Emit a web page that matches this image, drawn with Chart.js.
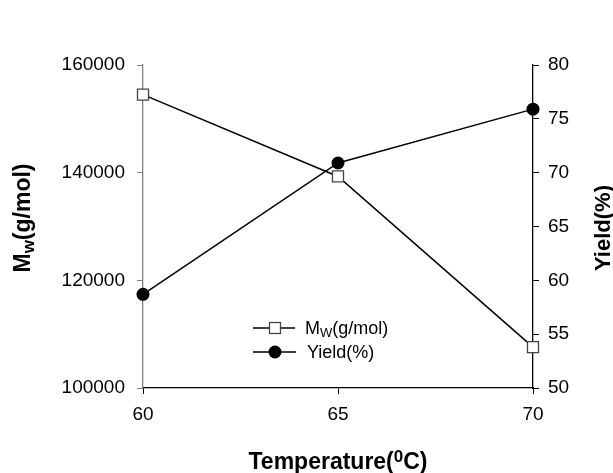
<!DOCTYPE html>
<html>
<head>
<meta charset="utf-8">
<script src="https://cdn.jsdelivr.net/npm/chart.js@4.4.1/dist/chart.umd.min.js"></script>
<style>
  html, body { margin: 0; padding: 0; background: #fff; }
  #chart { display: block; }
</style>
</head>
<body>
<canvas id="chart" width="613" height="473"></canvas>
<script>
const FONT = "'Liberation Sans', Arial, sans-serif";

// data
const temps = [60, 65, 70];
const mw = [154500, 139300, 107600];
const yieldPct = [58.7, 70.9, 75.9];

const xTicks = [60, 65, 70];
const mwRange = [100000, 160000];
const yieldRange = [50, 80];

const toPoints = (xs, ys) => xs.map((x, i) => ({ x: x, y: ys[i] }));

// draw "base" + small sub/sup text, returns width
function richText(ctx, parts, x, y, measureOnly) {
  let cx = x;
  parts.forEach(p => {
    ctx.font = p.font;
    const w = ctx.measureText(p.t).width;
    if (!measureOnly) ctx.fillText(p.t, cx, y + (p.dy || 0));
    cx += w;
  });
  return cx - x;
}

const labelsPlugin = {
  id: 'labels',
  afterDraw(chart) {
    const ctx = chart.ctx;
    const area = chart.chartArea;
    ctx.save();
    ctx.fillStyle = '#000';
    ctx.textBaseline = 'alphabetic';
    ctx.textAlign = 'left';

    // x title
    const xt = [
      { t: 'Temperature(', font: `bold 23px ${FONT}` },
      { t: '0', font: `bold 17px ${FONT}`, dy: -7 },
      { t: 'C)', font: `bold 23px ${FONT}` }
    ];
    let w = richText(ctx, xt, 0, 0, true);
    richText(ctx, xt, (area.left + area.right) / 2 - w / 2, 469, false);

    // left y title
    const yl = [
      { t: 'M', font: `bold 23px ${FONT}` },
      { t: 'w', font: `bold 17px ${FONT}`, dy: 4 },
      { t: '(g/mol)', font: `bold 23px ${FONT}` }
    ];
    w = richText(ctx, yl, 0, 0, true);
    ctx.save();
    ctx.translate(30, 218);
    ctx.rotate(-Math.PI / 2);
    richText(ctx, yl, -w / 2, 0, false);
    ctx.restore();

    // right y title
    const yr = [{ t: 'Yield(%)', font: `bold 22px ${FONT}` }];
    w = richText(ctx, yr, 0, 0, true);
    ctx.save();
    ctx.translate(610, 228);
    ctx.rotate(-Math.PI / 2);
    richText(ctx, yr, -w / 2, 0, false);
    ctx.restore();

    // legend
    ctx.strokeStyle = '#000';
    ctx.lineWidth = 1.3;
    ctx.beginPath();
    ctx.moveTo(253, 328); ctx.lineTo(295, 328);
    ctx.moveTo(253, 352); ctx.lineTo(296, 352);
    ctx.stroke();
    ctx.fillStyle = '#fff';
    ctx.strokeStyle = '#444';
    ctx.fillRect(269.5, 322.5, 11, 11);
    ctx.strokeRect(269.5, 322.5, 11, 11);
    ctx.fillStyle = '#000';
    ctx.beginPath();
    ctx.arc(275, 352, 6.5, 0, Math.PI * 2);
    ctx.fill();

    richText(ctx, [
      { t: 'M', font: `18px ${FONT}` },
      { t: 'W', font: `13px ${FONT}`, dy: 3 },
      { t: '(g/mol)', font: `18px ${FONT}` }
    ], 305, 334, false);
    richText(ctx, [{ t: 'Yield(%)', font: `18px ${FONT}` }], 307, 358, false);

    ctx.restore();
  }
};

new Chart(document.getElementById('chart'), {
  type: 'line',
  data: {
    datasets: [
      {
        label: 'Mw(g/mol)',
        data: toPoints(temps, mw),
        yAxisID: 'y',
        borderColor: '#000',
        borderWidth: 1.5,
        pointStyle: 'rect',
        pointRadius: 7.8,
        pointBackgroundColor: '#fff',
        pointBorderColor: '#444',
        pointBorderWidth: 1.3,
        tension: 0,
        order: 1
      },
      {
        label: 'Yield(%)',
        data: toPoints(temps, yieldPct),
        yAxisID: 'y1',
        borderColor: '#000',
        borderWidth: 1.5,
        pointStyle: 'circle',
        pointRadius: 6.5,
        pointBackgroundColor: '#000',
        pointBorderColor: '#000',
        pointBorderWidth: 0,
        tension: 0,
        order: 2
      }
    ]
  },
  options: {
    responsive: false,
    animation: false,
    clip: false,
    layout: { padding: { top: 65, left: 0, right: 0, bottom: 0 } },
    plugins: {
      legend: { display: false },
      tooltip: { enabled: false }
    },
    scales: {
      x: {
        type: 'linear',
        min: xTicks[0],
        max: xTicks[xTicks.length - 1],
        afterBuildTicks: s => { s.ticks = xTicks.map(v => ({ value: v })); },
        afterFit: s => { s.height = 85; },
        border: { display: true, color: '#000', width: 1.3 },
        grid: { drawOnChartArea: false, drawTicks: true, tickLength: 6, color: '#000' },
        ticks: { color: '#000', font: { family: FONT, size: 19 }, padding: 9, maxRotation: 0 }
      },
      y: {
        position: 'left',
        min: mwRange[0],
        max: mwRange[1],
        afterFit: s => { s.width = 143; },
        border: { display: true, color: '#808080', width: 1.3 },
        grid: { drawOnChartArea: false, drawTicks: true, tickLength: 6, color: '#808080' },
        ticks: { stepSize: 20000, color: '#000', font: { family: FONT, size: 19 }, padding: 12,
          callback: v => String(v) }
      },
      y1: {
        position: 'right',
        min: yieldRange[0],
        max: yieldRange[1],
        afterFit: s => { s.width = 80; },
        border: { display: true, color: '#000', width: 1.3 },
        grid: { drawOnChartArea: false, drawTicks: true, tickLength: 6, color: '#000' },
        ticks: { stepSize: 5, color: '#000', font: { family: FONT, size: 19 }, padding: 9 }
      }
    }
  },
  plugins: [labelsPlugin]
});
</script>
</body>
</html>
